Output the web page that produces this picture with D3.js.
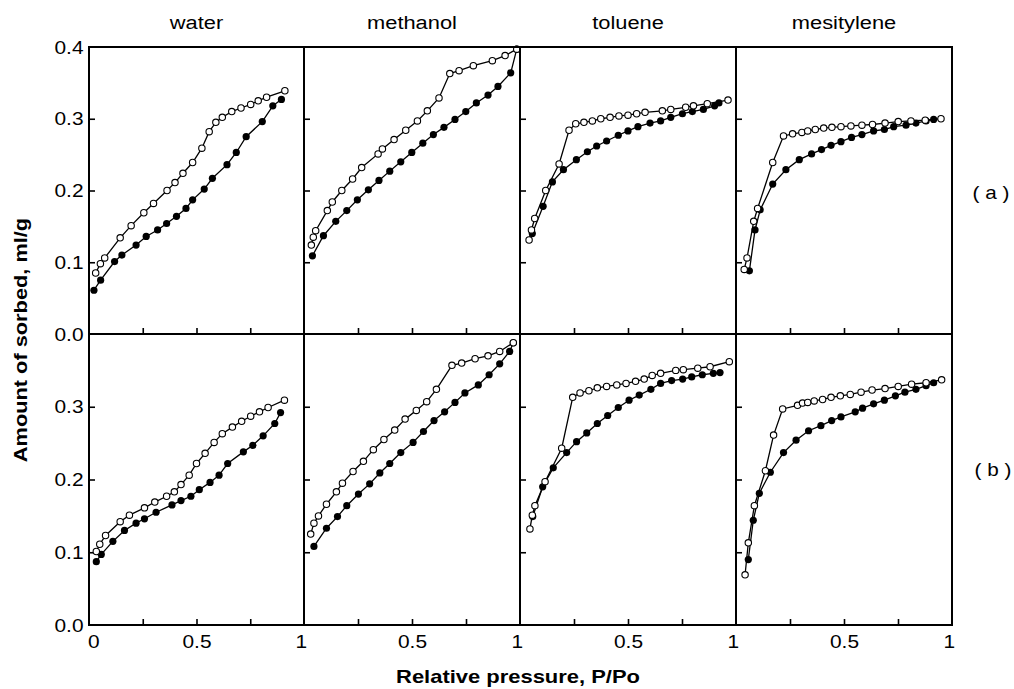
<!DOCTYPE html>
<html>
<head>
<meta charset="utf-8">
<script src="https://cdn.jsdelivr.net/npm/d3@7"></script>
<style>
  body { margin: 0; background: #fff; }
  text { font-family: "Liberation Sans", Arial, sans-serif; fill: #000; }
</style>
</head>
<body>
<div id="container"></div>
<script>
let w = 1014;
let h = 689;

// panel titles, row tags, tick labels
let solvents = ["water", "methanol", "toluene", "mesitylene"];
let rowTags = ["( a )", "( b )"];
let xTicks = [0.25, 0.5, 0.75];
let xLabelTicks = [0, 0.5, 1];
let yTicks = [0.1, 0.2, 0.3];
let yLabelsTop = [0, 0.1, 0.2, 0.3, 0.4];
let yLabelsBottom = [0, 0.1, 0.2, 0.3];

// [P/Po, ml/g]  ads = filled, des = open
let waterAdsA = [[0.023,0.061],[0.054,0.075],[0.119,0.101],[0.153,0.110],[0.219,0.124],[0.266,0.136],[0.319,0.145],[0.361,0.154],[0.407,0.164],[0.451,0.175],[0.482,0.187],[0.536,0.202],[0.574,0.217],[0.642,0.236],[0.685,0.253],[0.731,0.275],[0.806,0.296],[0.855,0.318],[0.895,0.327]];
let waterDesA = [[0.031,0.085],[0.053,0.098],[0.073,0.106],[0.145,0.134],[0.196,0.151],[0.255,0.169],[0.300,0.182],[0.363,0.200],[0.400,0.211],[0.437,0.224],[0.482,0.239],[0.525,0.259],[0.559,0.282],[0.590,0.295],[0.620,0.302],[0.664,0.310],[0.707,0.315],[0.752,0.320],[0.787,0.325],[0.826,0.330],[0.911,0.339]];
let methanolAdsA = [[0.039,0.109],[0.090,0.137],[0.147,0.157],[0.198,0.172],[0.247,0.187],[0.298,0.201],[0.347,0.214],[0.397,0.227],[0.448,0.240],[0.499,0.253],[0.550,0.266],[0.599,0.278],[0.648,0.288],[0.699,0.299],[0.749,0.310],[0.798,0.322],[0.852,0.333],[0.898,0.345],[0.957,0.364],[0.985,0.397]];
let methanolDesA = [[0.034,0.124],[0.043,0.135],[0.054,0.144],[0.108,0.172],[0.131,0.184],[0.175,0.200],[0.225,0.216],[0.267,0.232],[0.343,0.251],[0.363,0.258],[0.417,0.271],[0.471,0.284],[0.525,0.297],[0.571,0.311],[0.625,0.329],[0.675,0.363],[0.718,0.367],[0.784,0.374],[0.872,0.381],[0.931,0.388],[0.985,0.397]];
let tolueneAdsA = [[0.057,0.140],[0.107,0.178],[0.150,0.212],[0.201,0.229],[0.261,0.243],[0.312,0.254],[0.355,0.262],[0.401,0.269],[0.455,0.277],[0.500,0.283],[0.546,0.289],[0.602,0.294],[0.651,0.297],[0.698,0.302],[0.752,0.307],[0.798,0.310],[0.849,0.313],[0.901,0.318],[0.921,0.322]];
let tolueneDesA = [[0.042,0.131],[0.053,0.145],[0.068,0.161],[0.119,0.200],[0.181,0.237],[0.227,0.284],[0.258,0.293],[0.296,0.295],[0.335,0.297],[0.374,0.300],[0.417,0.302],[0.458,0.304],[0.500,0.305],[0.540,0.307],[0.579,0.309],[0.659,0.311],[0.698,0.313],[0.767,0.316],[0.803,0.318],[0.867,0.321],[0.963,0.326]];
let mesityleneAdsA = [[0.062,0.088],[0.088,0.145],[0.112,0.173],[0.170,0.209],[0.231,0.229],[0.293,0.243],[0.350,0.251],[0.396,0.257],[0.440,0.263],[0.486,0.268],[0.535,0.274],[0.583,0.278],[0.637,0.283],[0.687,0.285],[0.730,0.289],[0.787,0.291],[0.833,0.294],[0.880,0.297],[0.915,0.299]];
let mesityleneDesA = [[0.038,0.090],[0.051,0.106],[0.082,0.157],[0.100,0.175],[0.170,0.239],[0.220,0.276],[0.262,0.279],[0.305,0.281],[0.332,0.283],[0.367,0.285],[0.406,0.287],[0.444,0.288],[0.486,0.289],[0.532,0.290],[0.583,0.291],[0.632,0.292],[0.690,0.294],[0.751,0.296],[0.810,0.297],[0.876,0.298],[0.949,0.300]];

let waterAdsB = [[0.034,0.087],[0.057,0.097],[0.111,0.115],[0.165,0.130],[0.219,0.140],[0.258,0.146],[0.312,0.155],[0.386,0.165],[0.428,0.171],[0.474,0.177],[0.513,0.186],[0.563,0.196],[0.605,0.206],[0.645,0.222],[0.718,0.238],[0.762,0.247],[0.810,0.260],[0.864,0.277],[0.891,0.292]];
let waterDesB = [[0.034,0.101],[0.050,0.111],[0.077,0.123],[0.145,0.142],[0.188,0.151],[0.258,0.161],[0.306,0.169],[0.361,0.177],[0.397,0.183],[0.428,0.193],[0.466,0.206],[0.500,0.222],[0.540,0.236],[0.582,0.251],[0.620,0.263],[0.667,0.272],[0.710,0.280],[0.752,0.287],[0.793,0.293],[0.833,0.299],[0.909,0.309]];
let methanolAdsB = [[0.046,0.108],[0.104,0.133],[0.155,0.149],[0.198,0.164],[0.252,0.180],[0.304,0.194],[0.351,0.209],[0.397,0.222],[0.448,0.237],[0.505,0.251],[0.553,0.266],[0.602,0.281],[0.651,0.293],[0.699,0.306],[0.745,0.319],[0.807,0.330],[0.857,0.344],[0.906,0.359],[0.952,0.376],[0.969,0.388]];
let methanolDesB = [[0.031,0.125],[0.046,0.140],[0.067,0.150],[0.104,0.166],[0.150,0.183],[0.178,0.195],[0.227,0.211],[0.275,0.225],[0.321,0.241],[0.370,0.255],[0.420,0.268],[0.468,0.283],[0.520,0.295],[0.568,0.307],[0.613,0.324],[0.685,0.357],[0.730,0.360],[0.792,0.366],[0.852,0.370],[0.906,0.376],[0.969,0.388]];
let tolueneAdsB = [[0.059,0.149],[0.105,0.190],[0.154,0.216],[0.216,0.237],[0.262,0.252],[0.309,0.264],[0.358,0.277],[0.406,0.288],[0.455,0.299],[0.505,0.309],[0.552,0.316],[0.606,0.324],[0.651,0.332],[0.702,0.336],[0.753,0.338],[0.795,0.341],[0.844,0.344],[0.895,0.346],[0.926,0.347]];
let tolueneDesB = [[0.046,0.132],[0.057,0.151],[0.069,0.164],[0.116,0.197],[0.193,0.243],[0.244,0.313],[0.278,0.319],[0.319,0.322],[0.358,0.326],[0.401,0.328],[0.448,0.330],[0.491,0.332],[0.535,0.335],[0.575,0.338],[0.612,0.343],[0.651,0.346],[0.721,0.350],[0.756,0.351],[0.823,0.353],[0.880,0.355],[0.969,0.362]];
let mesityleneAdsB = [[0.057,0.090],[0.080,0.144],[0.108,0.181],[0.159,0.210],[0.220,0.237],[0.278,0.254],[0.336,0.267],[0.393,0.274],[0.443,0.281],[0.486,0.286],[0.552,0.293],[0.586,0.298],[0.637,0.304],[0.687,0.309],[0.738,0.315],[0.782,0.320],[0.833,0.324],[0.880,0.329],[0.915,0.333]];
let mesityleneDesB = [[0.042,0.069],[0.057,0.113],[0.085,0.164],[0.136,0.212],[0.174,0.261],[0.216,0.297],[0.285,0.302],[0.308,0.305],[0.332,0.306],[0.362,0.308],[0.401,0.310],[0.440,0.313],[0.483,0.315],[0.529,0.317],[0.579,0.320],[0.630,0.323],[0.690,0.325],[0.751,0.328],[0.813,0.331],[0.880,0.333],[0.952,0.337]];

let seriesA = [[waterAdsA, waterDesA], [methanolAdsA, methanolDesA], [tolueneAdsA, tolueneDesA], [mesityleneAdsA, mesityleneDesA]];
let seriesB = [[waterAdsB, waterDesB], [methanolAdsB, methanolDesB], [tolueneAdsB, tolueneDesB], [mesityleneAdsB, mesityleneDesB]];

// layout
let colEdges = [89, 304, 520, 736, 952];
let rowEdges = [[47, 334], [334, 625]];
let stretch = 1.1;

let svg = d3.select("#container")
  .append("svg")
  .attr("width", w)
  .attr("height", h)
  .style("background-color", "#fff");

let fmt = d3.format(".1f");

[seriesA, seriesB].forEach(function (rowSeries, r) {
  let yScale = d3.scaleLinear().domain([0, 0.4]).range([rowEdges[r][1], rowEdges[r][0]]);

  rowSeries.forEach(function (pair, c) {
    let xScale = d3.scaleLinear().domain([0, 1]).range([colEdges[c], colEdges[c + 1]]);
    let g = svg.append("g");

    // inward x ticks
    let xAxis = g.append("g")
      .attr("transform", "translate(0," + rowEdges[r][1] + ")")
      .call(d3.axisBottom(xScale).tickValues(xTicks).tickSizeInner(-6).tickSizeOuter(0).tickFormat(""));
    xAxis.select(".domain").remove();
    xAxis.selectAll("line").attr("stroke-width", 1.6);

    // inward y ticks
    let yAxis = g.append("g")
      .attr("transform", "translate(" + colEdges[c] + ",0)")
      .call(d3.axisLeft(yScale).tickValues(yTicks).tickSizeInner(-6).tickSizeOuter(0).tickFormat(""));
    yAxis.select(".domain").remove();
    yAxis.selectAll("line").attr("stroke-width", 1.6);

    // x labels on bottom row
    if (r === 1) {
      let vals = c === 0 ? xLabelTicks : xLabelTicks.slice(1);
      let xl = g.append("g")
        .attr("transform", "translate(0," + rowEdges[r][1] + ")")
        .call(d3.axisBottom(xScale).tickValues(vals).tickSize(0).tickPadding(10)
          .tickFormat(d => d === 0 ? "0" : d === 1 ? "1" : "0.5"));
      xl.select(".domain").remove();
      xl.selectAll("text")
        .style("font-size", "19px")
        .attr("dx", d => d === 0 ? 4 : d === 1 ? -3 : 0)
        .attr("transform", "scale(" + stretch + ",1)");
    }

    // y labels on first column
    if (c === 0) {
      let yl = g.append("g")
        .attr("transform", "translate(" + colEdges[0] + ",0)")
        .call(d3.axisLeft(yScale).tickValues(r === 0 ? yLabelsTop : yLabelsBottom).tickSize(0).tickPadding(5).tickFormat(fmt));
      yl.select(".domain").remove();
      yl.selectAll("text")
        .style("font-size", "19px")
        .attr("transform", "scale(" + stretch + ",1)");
    }

    let line = d3.line()
      .x(d => xScale(d[0]))
      .y(d => yScale(d[1]));

    pair.forEach(function (s) {
      g.append("path")
        .datum(s)
        .attr("fill", "none")
        .attr("stroke", "#000")
        .attr("stroke-width", 1.3)
        .attr("d", line);
    });

    g.selectAll(".ads")
      .data(pair[0])
      .enter()
      .append("circle")
      .attr("cx", d => xScale(d[0]))
      .attr("cy", d => yScale(d[1]))
      .attr("r", 3.6)
      .attr("fill", "#000");

    g.selectAll(".des")
      .data(pair[1])
      .enter()
      .append("circle")
      .attr("cx", d => xScale(d[0]))
      .attr("cy", d => yScale(d[1]))
      .attr("r", 3.2)
      .attr("fill", "#fff")
      .attr("stroke", "#000")
      .attr("stroke-width", 1.1);

    // frame
    g.append("rect")
      .attr("x", colEdges[c])
      .attr("y", rowEdges[r][0])
      .attr("width", colEdges[c + 1] - colEdges[c])
      .attr("height", rowEdges[r][1] - rowEdges[r][0])
      .attr("fill", "none")
      .attr("stroke", "#000")
      .attr("stroke-width", 2);
  });
});

// solvent titles
solvents.forEach(function (s, c) {
  svg.append("text")
    .attr("transform", "translate(" + ((colEdges[c] + colEdges[c + 1]) / 2) + ",29) scale(1.15,1)")
    .attr("text-anchor", "middle")
    .style("font-size", "19px")
    .text(s);
});

// row tags
svg.append("text")
  .attr("transform", "translate(991,199) scale(1.15,1)")
  .attr("text-anchor", "middle")
  .style("font-size", "18px")
  .text(rowTags[0]);
svg.append("text")
  .attr("transform", "translate(993,476) scale(1.15,1)")
  .attr("text-anchor", "middle")
  .style("font-size", "18px")
  .text(rowTags[1]);

// axis titles
svg.append("text")
  .attr("transform", "translate(518,683) scale(1.22,1)")
  .attr("text-anchor", "middle")
  .style("font-size", "18px")
  .style("font-weight", "bold")
  .text("Relative pressure, P/Po");

svg.append("text")
  .attr("transform", "translate(27,340) rotate(-90) scale(1.21,1)")
  .attr("text-anchor", "middle")
  .style("font-size", "18px")
  .style("font-weight", "bold")
  .text("Amount of sorbed, ml/g");
</script>
</body>
</html>
